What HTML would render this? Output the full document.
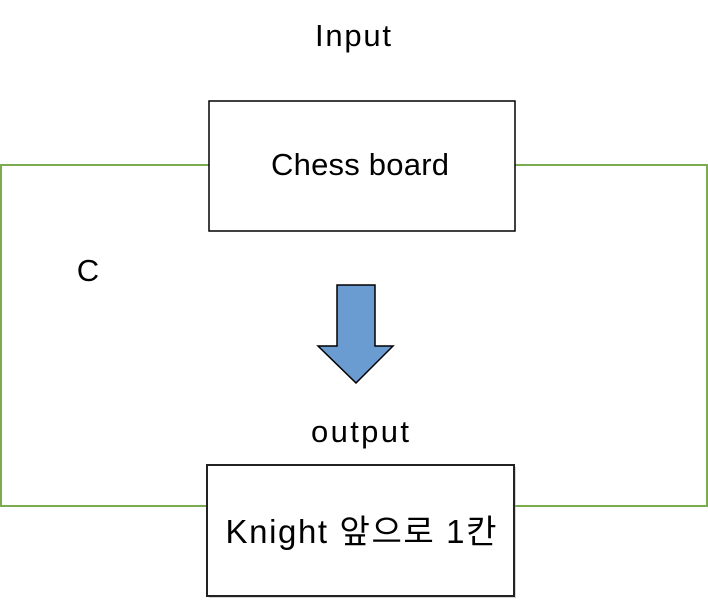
<!DOCTYPE html>
<html><head><meta charset="utf-8"><style>
html,body{margin:0;padding:0;background:#fff;width:708px;height:602px;overflow:hidden}
svg{display:block}
text{font-family:"Liberation Sans","Noto Sans CJK KR",sans-serif;font-size:31px;fill:#000}
</style></head><body>
<svg width="708" height="602" viewBox="0 0 708 602">
<polyline points="209,165 1,165 1,506 207,506" fill="none" stroke="#7aab4e" stroke-width="2"/>
<polyline points="515,165 707,165 707,506 515,506" fill="none" stroke="#7aab4e" stroke-width="2"/>
<rect x="209" y="101" width="306" height="130" fill="#fff" stroke="#000" stroke-width="1.5"/>
<rect x="209" y="467" width="307" height="131" fill="#aaa" opacity="0.5"/>
<rect x="207" y="465" width="307" height="131" fill="#fff" stroke="#222" stroke-width="2"/>
<polygon points="337,285 375,285 375,346 393,346 356,383 318,346 337,346" fill="#6a9bd1" stroke="#000" stroke-width="1.5" stroke-linejoin="miter"/>
<text x="353" y="46" text-anchor="middle" textLength="76">Input</text>
<text x="360" y="175" text-anchor="middle" textLength="178">Chess board</text>
<text x="88" y="281" text-anchor="middle">C</text>
<text x="360" y="442" text-anchor="middle" textLength="98">output</text>
<text x="361" y="543" text-anchor="middle" style="font-size:33px" textLength="271">Knight 앞으로 1칸</text>
</svg>
</body></html>
